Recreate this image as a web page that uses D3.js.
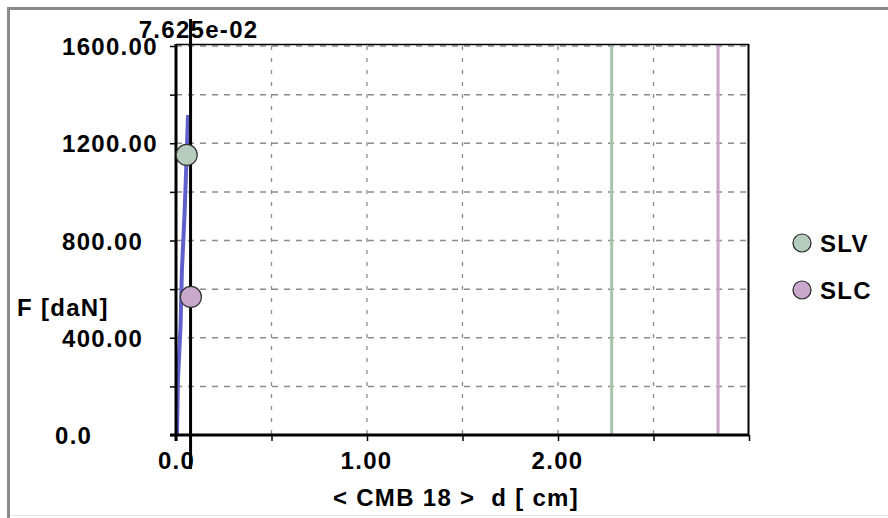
<!DOCTYPE html>
<html>
<head>
<meta charset="utf-8">
<script src="https://cdn.jsdelivr.net/npm/d3@7/dist/d3.min.js"></script>
<style>
  html, body { margin: 0; padding: 0; background: #fff; }
  svg { display: block; }
  text { font-family: "Liberation Sans", Arial, sans-serif; font-weight: bold; fill: #000; }
</style>
</head>
<body>
<svg id="chart" width="888" height="518"></svg>
<script>
// ---- data ----
const curveD = [0.005, 0.010, 0.024, 0.031, 0.045, 0.055, 0.063];
const curveF = [0, 226, 452, 679, 913, 1131, 1316];

const seriesNames = ["SLV", "SLC"];
const seriesMarkD = [0.056, 0.078];
const seriesMarkF = [1152, 568];
const seriesLimitD = [2.281, 2.838];
const seriesFill = ["#b6cdbd", "#c9a9cb"];
const seriesLine = ["#a9c2ab", "#c8a6c8"];

const cursorD = 0.07625;
const cursorLabel = "7.625e-02";

const yTicks = [0, 200, 400, 600, 800, 1000, 1200, 1400, 1600];
const yLabelVals = [0, 400, 800, 1200, 1600];
const yLabelTexts = ["0.0", "400.00", "800.00", "1200.00", "1600.00"];
const xTicks = [0, 0.5, 1, 1.5, 2, 2.5, 3];
const xLabelVals = [0, 1, 2];
const xLabelTexts = ["0.0", "1.00", "2.00"];

const yTitle = "F [daN]";
const xTitle = "< CMB 18 >  d [ cm]";

// ---- layout ----
const FS = "24px", LS = "1.3px";
const svg = d3.select("#chart");
const L = 176, R = 749, T = 46, B = 435;
const x = d3.scaleLinear().domain([0, 3]).range([L, R]);
const y = d3.scaleLinear().domain([0, 1600]).range([B, T]);

// outer frame
svg.append("line").attr("x1", 7).attr("x2", 888).attr("y1", 8.5).attr("y2", 8.5)
  .attr("stroke", "#8a8a8a").attr("stroke-width", 3);
svg.append("line").attr("x1", 8.5).attr("x2", 8.5).attr("y1", 7).attr("y2", 518)
  .attr("stroke", "#8a8a8a").attr("stroke-width", 3);
svg.append("line").attr("x1", 10).attr("x2", 888).attr("y1", 515.5).attr("y2", 515.5)
  .attr("stroke", "#e4e4e4").attr("stroke-width", 1);

// grid
const g = svg.append("g");
g.selectAll("line.hg").data(yTicks.filter(v => v > 0)).join("line")
  .attr("x1", L).attr("x2", R).attr("y1", d => y(d)).attr("y2", d => y(d))
  .attr("stroke", "#8c8c8c").attr("stroke-width", 1.5).attr("stroke-dasharray", "6,6");
g.selectAll("line.vg").data(xTicks.filter(v => v > 0 && v < 3)).join("line")
  .attr("x1", d => x(d)).attr("x2", d => x(d)).attr("y1", T).attr("y2", B)
  .attr("stroke", "#8c8c8c").attr("stroke-width", 1.3).attr("stroke-dasharray", "4,8");

// limit lines
g.selectAll("line.lim").data(seriesLimitD).join("line")
  .attr("x1", d => x(d)).attr("x2", d => x(d)).attr("y1", T - 2).attr("y2", B)
  .attr("stroke", (d, i) => seriesLine[i]).attr("stroke-width", 3);

// plot frame top/right
svg.append("line").attr("x1", L).attr("x2", R).attr("y1", T - 1.5).attr("y2", T - 1.5)
  .attr("stroke", "#000").attr("stroke-width", 1.5);
svg.append("line").attr("x1", R - 0.5).attr("x2", R - 0.5).attr("y1", T - 2).attr("y2", B)
  .attr("stroke", "#000").attr("stroke-width", 2);

// curve
const pts = curveD.map((d, i) => [d, curveF[i]]);
svg.append("path").datum(pts)
  .attr("d", d3.line().x(d => x(d[0])).y(d => y(d[1])))
  .attr("fill", "none").attr("stroke", "#6060cc").attr("stroke-width", 4);

// axes
const yAxis = svg.append("g").attr("transform", `translate(${L},0)`)
  .call(d3.axisLeft(y).tickValues(yTicks).tickSize(6).tickPadding(0)
    .tickFormat(d => { const k = yLabelVals.indexOf(d); return k >= 0 ? yLabelTexts[k] : ""; }));
yAxis.select(".domain").remove();
yAxis.selectAll(".tick line").attr("stroke", "#000").attr("stroke-width", 1.5);
yAxis.selectAll(".tick text")
  .attr("text-anchor", "start").attr("x", d => d === 0 ? -121 : -114).attr("dy", "0.36em")
  .style("font-family", "'Liberation Sans', Arial, sans-serif").style("font-weight", "bold")
  .style("font-size", FS).style("letter-spacing", LS);

const xAxis = svg.append("g").attr("transform", `translate(0,${B})`)
  .call(d3.axisBottom(x).tickValues(xTicks).tickSize(6).tickPadding(0)
    .tickFormat(d => { const k = xLabelVals.indexOf(d); return k >= 0 ? xLabelTexts[k] : ""; }));
xAxis.select(".domain").remove();
xAxis.selectAll(".tick line").attr("stroke", "#000").attr("stroke-width", 1.5);
xAxis.selectAll(".tick text")
  .attr("y", 25).attr("dy", "0.36em").attr("dx", d => d === 0 ? 0 : -1)
  .style("font-family", "'Liberation Sans', Arial, sans-serif").style("font-weight", "bold")
  .style("font-size", FS).style("letter-spacing", LS);

// axis lines
svg.append("line").attr("x1", 170).attr("x2", R).attr("y1", B).attr("y2", B)
  .attr("stroke", "#000").attr("stroke-width", 3);
svg.append("line").attr("x1", L).attr("x2", L).attr("y1", T - 2).attr("y2", B + 6)
  .attr("stroke", "#000").attr("stroke-width", 3);

// cursor line
svg.append("line").attr("x1", x(cursorD)).attr("x2", x(cursorD)).attr("y1", 19).attr("y2", 469)
  .attr("stroke", "#000").attr("stroke-width", 3);
svg.append("text").attr("x", x(cursorD) + 8).attr("y", 29).attr("dy", "0.36em")
  .attr("text-anchor", "middle").style("font-size", FS).style("letter-spacing", LS)
  .text(cursorLabel);

// markers
svg.selectAll("circle.mk").data(seriesNames).join("circle")
  .attr("cx", (d, i) => x(seriesMarkD[i])).attr("cy", (d, i) => y(seriesMarkF[i]))
  .attr("r", 10.5).attr("fill", (d, i) => seriesFill[i]).attr("stroke", "#333").attr("stroke-width", 1.2);

// titles
svg.append("text").attr("x", 17).attr("y", 307).attr("dy", "0.36em")
  .style("font-size", FS).style("letter-spacing", LS).text(yTitle);
svg.append("text").attr("x", 456).attr("y", 497).attr("dy", "0.36em").attr("text-anchor", "middle")
  .style("font-size", FS).style("letter-spacing", LS).style("white-space", "pre")
  .attr("xml:space", "preserve").text(xTitle);

// legend
const leg = svg.append("g");
seriesNames.forEach((n, i) => {
  const cy = 243 + i * 47;
  leg.append("circle").attr("cx", 802).attr("cy", cy).attr("r", 9)
    .attr("fill", seriesFill[i]).attr("stroke", "#222").attr("stroke-width", 1.2);
  leg.append("text").attr("x", 820).attr("y", cy).attr("dy", "0.36em")
    .style("font-size", FS).style("letter-spacing", LS).text(n);
});
</script>
</body>
</html>
